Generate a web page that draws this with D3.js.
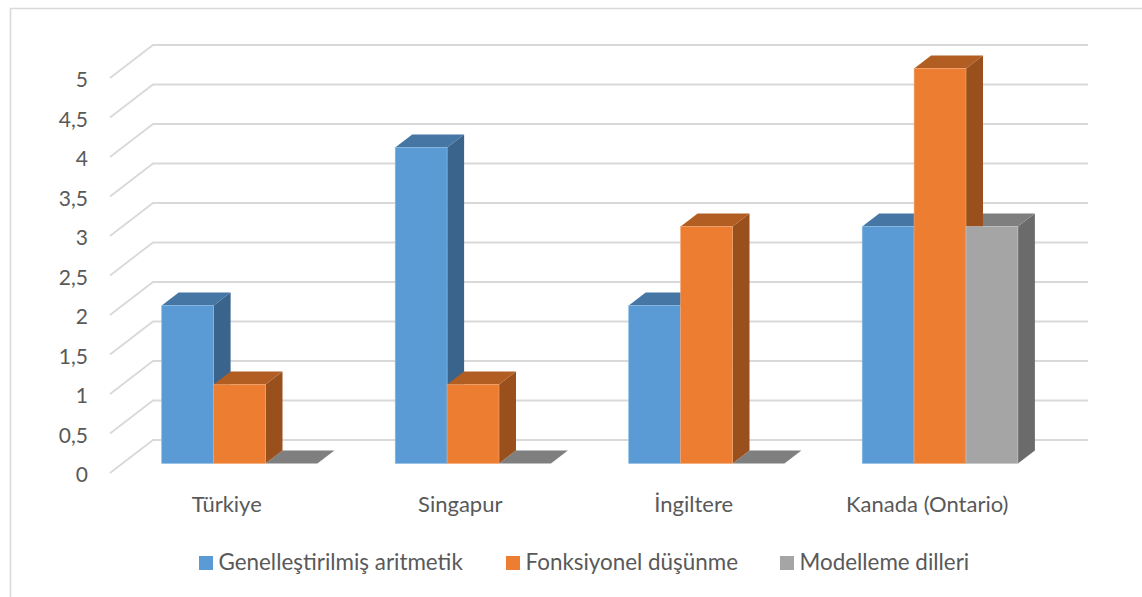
<!DOCTYPE html>
<html lang="tr">
<head>
<meta charset="utf-8">
<title>Grafik</title>
<script src="https://cdn.jsdelivr.net/npm/d3@7/dist/d3.min.js"></script>
<style>
html,body{margin:0;padding:0;background:#fff;overflow:hidden}
svg{display:block}
text{font-family:Lato,"Open Sans",sans-serif;fill:#595959}
</style>
</head>
<body>
<svg id="chart" width="1142" height="597"></svg>
<script>
const categories = ["Türkiye", "Singapur", "İngiltere", "Kanada (Ontario)"];
const seriesNames = ["Genelleştirilmiş aritmetik", "Fonksiyonel düşünme", "Modelleme dilleri"];
const genellestirilmis = [2, 4, 2, 3];
const fonksiyonel = [1, 1, 3, 5];
const modelleme = [0, 0, 0, 3];
const yTicks = [0, 0.5, 1, 1.5, 2, 2.5, 3, 3.5, 4, 4.5, 5];

const seriesValues = [genellestirilmis, fonksiyonel, modelleme];
const front = ["#5b9bd5", "#ed7d31", "#a5a5a5"];
const topFace = ["#4676a3", "#b25e22", "#7f7f7f"];
const sideFace = ["#3b648c", "#99501c", "#6b6b6b"];
const edge = ["#8dbbe4", "#f4a873", "#c4c4c4"];

const svg = d3.select("#chart");
const tickFormat = v => String(v).replace(".", ",");

// Front plane of the plot box and the depth of its floor
const x = d3.scaleBand().domain(categories).range([110, 1044]);
const y = d3.scaleLinear().domain([0, 5]).range([473, 78]);
const floor = { dx: 43, dy: -33 };
const bar = { dx: 17, dy: -13, shiftX: 12.8, shiftY: -9.5, width: 51.9 };

// Chart frame
svg.append("path")
  .attr("d", "M1142,8.5H10.5V597")
  .attr("fill", "none").attr("stroke", "#d9d9d9").attr("stroke-width", 1.6);

// Back-wall gridlines with their diagonal run along the side wall
const grid = svg.append("g").attr("fill", "none").attr("stroke", "#d9d9d9").attr("stroke-width", 1.8);
yTicks.forEach(t => {
  grid.append("path").attr("d", d3.line()([
    [x.range()[0], y(t)],
    [x.range()[0] + floor.dx, y(t) + floor.dy],
    [x.range()[1] + floor.dx + 1, y(t) + floor.dy]
  ]));
});

// Value axis labels
svg.append("g").selectAll("text").data(yTicks).join("text")
  .attr("x", 88).attr("y", d => y(d) + 1.5)
  .attr("dy", "0.36em").attr("text-anchor", "end")
  .attr("font-size", 21).text(tickFormat);

const poly = pts => pts.map(p => p.join(",")).join(" ");
const columnSpan = (cat, s) => {
  const x0 = x(cat) + x.bandwidth() / 2 + bar.shiftX - bar.width * 1.5 + s * bar.width;
  return { x0, x1: x0 + bar.width, yb: y(0) + bar.shiftY };
};

// Rear faces of a column: the side and the top
function drawRear(g, cat, s, value) {
  const { x0, x1, yb } = columnSpan(cat, s);
  const yt = y(value) + bar.shiftY;
  g.append("polygon")
    .attr("points", poly([[x1, yb], [x1 + bar.dx, yb + bar.dy], [x1 + bar.dx, yt + bar.dy], [x1, yt]]))
    .attr("fill", sideFace[s]);
  g.append("polygon")
    .attr("points", poly([[x0, yt], [x1, yt], [x1 + bar.dx, yt + bar.dy], [x0 + bar.dx, yt + bar.dy]]))
    .attr("fill", topFace[s]);
}

// Front face of a column, absent for a zero value
function drawFront(g, cat, s, value) {
  if (value <= 0) return;
  const { x0, yb } = columnSpan(cat, s);
  const yt = y(value) + bar.shiftY;
  g.append("rect")
    .attr("x", x0).attr("y", yt).attr("width", bar.width).attr("height", yb - yt)
    .attr("fill", front[s]).attr("stroke", edge[s]).attr("stroke-width", 0.6);
}

const bars = svg.append("g");
categories.forEach((cat, i) => {
  const g = bars.append("g");
  [0, 2, 1].forEach(s => drawRear(g, cat, s, seriesValues[s][i]));
  [0, 1, 2].forEach(s => drawFront(g, cat, s, seriesValues[s][i]));
});

// Category labels
svg.append("g").selectAll("text").data(categories).join("text")
  .attr("x", d => x(d) + x.bandwidth() / 2).attr("y", 504)
  .attr("dy", "0.36em").attr("text-anchor", "middle")
  .attr("font-size", 22).text(d => d);

// Legend
const legendX = [199, 506, 780];
const legend = svg.append("g").selectAll("g").data(seriesNames).join("g")
  .attr("transform", (d, i) => `translate(${legendX[i]},556)`);
legend.append("rect").attr("width", 14).attr("height", 14).attr("fill", (d, i) => front[i]);
legend.append("text").attr("x", 19.5).attr("y", 6).attr("dy", "0.36em")
  .attr("font-size", 22.4).text(d => d);
</script>
</body>
</html>
